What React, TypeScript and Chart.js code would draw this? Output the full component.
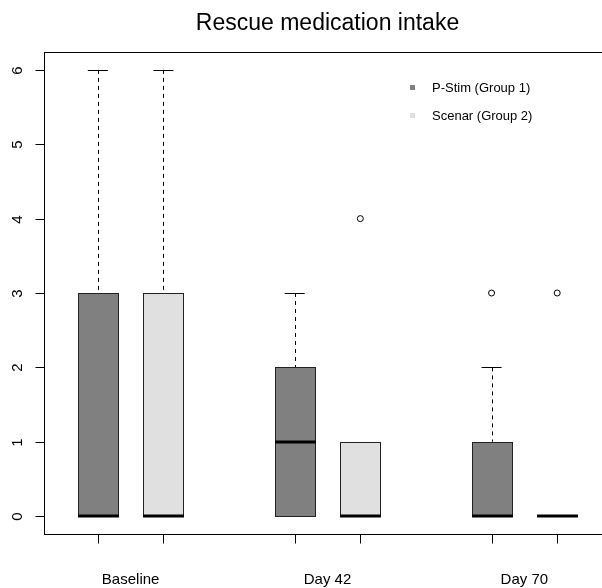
import React, { useEffect, useRef } from "react";
import { Chart, registerables } from "chart.js";

Chart.register(...registerables);

const categories = ["Baseline", "Day 42", "Day 70"];
const groupNames = ["P-Stim (Group 1)", "Scenar (Group 2)"];
const groupColors = ["#808080", "#E0E0E0"];
const boxPositions = [1, 2, 4, 5, 7, 8];
const boxGroup = [0, 1, 0, 1, 0, 1];
const lowerWhisker = [0, 0, 0, 0, 0, 0];
const q1 = [0, 0, 0, 0, 0, 0];
const median = [0, 0, 1, 0, 0, 0];
const q3 = [3, 3, 2, 1, 1, 0];
const upperWhisker = [6, 6, 3, 1, 2, 0];
const outlierValues = [[], [], [], [4], [3], [3]] as number[][];
const yTicks = [0, 1, 2, 3, 4, 5, 6];
const categoryCenters = [1.5, 4.5, 7.5];
const title = "Rescue medication intake";

const FONT = '"Liberation Sans", Arial, sans-serif';

const boxPlugin = {
  id: "rBoxplot",
  afterDraw(chart: any) {
    const ctx = chart.ctx;
    const xs = chart.scales.x;
    const ys = chart.scales.y;
    const area = chart.chartArea;
    const unit = xs.getPixelForValue(2) - xs.getPixelForValue(1);
    const halfBox = unit * 0.305;
    const halfCap = halfBox / 2;
    const r = (v: number) => Math.round(v) + 0.5;

    ctx.save();
    boxPositions.forEach((p, i) => {
      const cx = xs.getPixelForValue(p);
      const yq1 = ys.getPixelForValue(q1[i]);
      const yq3 = ys.getPixelForValue(q3[i]);
      const yMed = ys.getPixelForValue(median[i]);
      const yLo = ys.getPixelForValue(lowerWhisker[i]);
      const yHi = ys.getPixelForValue(upperWhisker[i]);
      ctx.strokeStyle = "#000";
      ctx.lineWidth = 1;
      if (upperWhisker[i] > q3[i]) {
        ctx.setLineDash([4, 4]);
        ctx.beginPath();
        ctx.moveTo(r(cx), yHi);
        ctx.lineTo(r(cx), yq3);
        ctx.stroke();
        ctx.setLineDash([]);
        ctx.beginPath();
        ctx.moveTo(cx - halfCap, r(yHi));
        ctx.lineTo(cx + halfCap, r(yHi));
        ctx.stroke();
      }
      if (lowerWhisker[i] < q1[i]) {
        ctx.setLineDash([4, 4]);
        ctx.beginPath();
        ctx.moveTo(r(cx), yq1);
        ctx.lineTo(r(cx), yLo);
        ctx.stroke();
        ctx.setLineDash([]);
        ctx.beginPath();
        ctx.moveTo(cx - halfCap, r(yLo));
        ctx.lineTo(cx + halfCap, r(yLo));
        ctx.stroke();
      }
      if (q3[i] > q1[i]) {
        const left = Math.round(cx - halfBox) + 0.5;
        const right = Math.round(cx + halfBox) + 0.5;
        ctx.fillStyle = groupColors[boxGroup[i]];
        ctx.fillRect(left, r(yq3), right - left, r(yq1) - r(yq3));
        ctx.strokeStyle = "#222";
        ctx.strokeRect(left, r(yq3), right - left, r(yq1) - r(yq3));
      }
      ctx.strokeStyle = "#000";
      ctx.lineWidth = 3;
      ctx.beginPath();
      ctx.moveTo(Math.round(cx - halfBox), Math.round(yMed));
      ctx.lineTo(Math.round(cx + halfBox) + 1, Math.round(yMed));
      ctx.stroke();
      ctx.lineWidth = 1;
    });

    // frame
    ctx.strokeStyle = "#000";
    ctx.lineWidth = 1;
    ctx.strokeRect(r(area.left), r(area.top), Math.round(area.right - area.left), Math.round(area.bottom - area.top));

    // y ticks
    ctx.fillStyle = "#000";
    ctx.font = `15px ${FONT}`;
    ctx.textAlign = "center";
    ctx.textBaseline = "middle";
    yTicks.forEach((t) => {
      const y = r(ys.getPixelForValue(t));
      ctx.beginPath();
      ctx.moveTo(r(area.left), y);
      ctx.lineTo(r(area.left) - 9, y);
      ctx.stroke();
      ctx.save();
      ctx.translate(18, y);
      ctx.rotate(-Math.PI / 2);
      ctx.fillText(String(t), 0, 0);
      ctx.restore();
    });

    // x ticks
    boxPositions.forEach((p) => {
      const x = r(xs.getPixelForValue(p));
      ctx.beginPath();
      ctx.moveTo(x, r(area.bottom));
      ctx.lineTo(x, r(area.bottom) + 9);
      ctx.stroke();
    });
    ctx.font = `15px ${FONT}`;
    ctx.textBaseline = "alphabetic";
    categoryCenters.forEach((c, i) => {
      ctx.fillText(categories[i], xs.getPixelForValue(c), 584);
    });

    // title
    ctx.font = `23px ${FONT}`;
    ctx.fillText(title, (area.left + area.right) / 2, 30);

    // legend
    ctx.font = `13px ${FONT}`;
    ctx.textAlign = "left";
    ctx.textBaseline = "middle";
    groupNames.forEach((g, i) => {
      const y = 88 + i * 28;
      ctx.fillStyle = groupColors[i];
      ctx.fillRect(410, y - 3, 5, 5);
      ctx.fillStyle = "#000";
      ctx.fillText(g, 432, y);
    });
    ctx.restore();
  },
};

export default function App() {
  const ref = useRef<HTMLCanvasElement | null>(null);
  useEffect(() => {
    if (!ref.current) return;
    const outlierPoints: { x: number; y: number }[] = [];
    boxPositions.forEach((p, i) => {
      outlierValues[i].forEach((v) => outlierPoints.push({ x: p, y: v }));
    });
    const chart = new Chart(ref.current, {
      type: "scatter",
      data: {
        datasets: [
          {
            label: "Outliers",
            data: outlierPoints,
            pointRadius: 3,
            pointStyle: "circle",
            backgroundColor: "rgba(0,0,0,0)",
            borderColor: "#000",
            borderWidth: 1,
          },
        ],
      },
      options: {
        responsive: false,
        animation: false,
        devicePixelRatio: 1,
        layout: { padding: { left: 44, right: 9, top: 52, bottom: 54 } },
        scales: {
          x: { type: "linear", min: 0.18, max: 8.82, display: false },
          y: { type: "linear", min: -0.24, max: 6.24, display: false },
        },
        plugins: {
          legend: { display: false },
          tooltip: { enabled: false },
          title: { display: false },
        },
      },
      plugins: [boxPlugin],
    });
    return () => chart.destroy();
  }, []);
  return (
    <div
      style={{
        position: "absolute",
        left: 0,
        top: 0,
        width: 602,
        height: 588,
        overflow: "hidden",
        background: "#fff",
      }}
    >
      <canvas ref={ref} width={620} height={588} style={{ display: "block" }} />
    </div>
  );
}
